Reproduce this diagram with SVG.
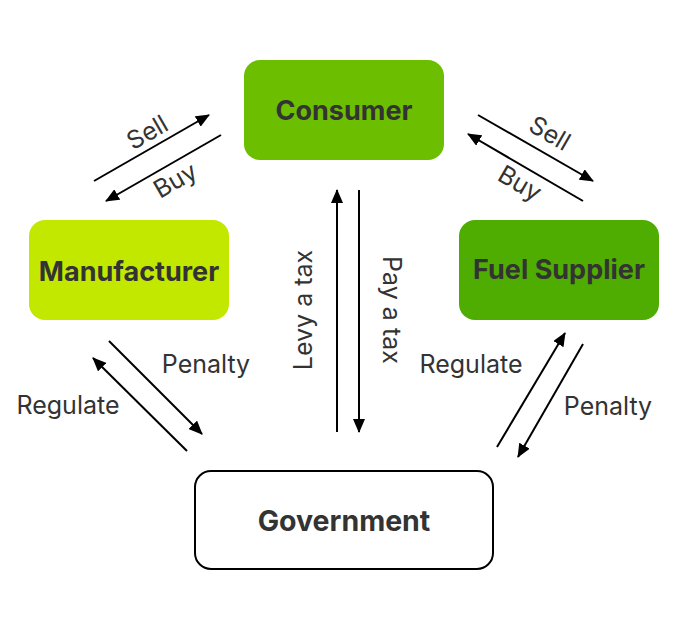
<svg xmlns="http://www.w3.org/2000/svg" width="689" height="631" viewBox="0 0 689 631">
<defs>
<marker id="ah" markerUnits="userSpaceOnUse" markerWidth="14" markerHeight="12" refX="13" refY="6" orient="auto">
<path d="M0,0 L14,6 L0,12 Z" fill="#000"/>
</marker>
<style>
.node-label{font-family:Inter,"Liberation Sans",sans-serif;font-weight:700;font-size:27px;fill:#333;text-anchor:middle;dominant-baseline:central}
.lbl{font-family:Inter,"Liberation Sans",sans-serif;font-size:25px;fill:#333;text-anchor:middle;dominant-baseline:central}
.conn{stroke:#000;stroke-width:2;fill:none;marker-end:url(#ah)}
</style>
</defs>
<rect width="689" height="631" fill="#fff"/>
<g id="consumer">
<rect x="244" y="60" width="200" height="100" rx="16" fill="#6cbf00"/>
<text class="node-label" x="344" y="110">Consumer</text>
</g>
<g id="manufacturer">
<rect x="29" y="220" width="200" height="100" rx="16" fill="#c3e800"/>
<text class="node-label" x="129" y="271">Manufacturer</text>
</g>
<g id="fuel-supplier">
<rect x="459" y="220" width="200" height="100" rx="16" fill="#4ead00"/>
<text class="node-label" x="559" y="269">Fuel Supplier</text>
</g>
<g id="government">
<rect x="195" y="471" width="298" height="98" rx="16" fill="#fff" stroke="#000" stroke-width="2"/>
<text class="node-label" x="344" y="520" style="font-size:28.5px">Government</text>
</g>
<g id="connectors">
<line class="conn" x1="94" y1="181" x2="209" y2="115"/>
<line class="conn" x1="221" y1="135" x2="106" y2="201"/>
<line class="conn" x1="478" y1="115" x2="593" y2="181"/>
<line class="conn" x1="583" y1="201" x2="468" y2="134"/>
<line class="conn" x1="337" y1="432" x2="337" y2="190"/>
<line class="conn" x1="359" y1="190" x2="359" y2="432"/>
<line class="conn" x1="109" y1="341" x2="202" y2="434"/>
<line class="conn" x1="187" y1="451" x2="93" y2="358"/>
<line class="conn" x1="497" y1="447" x2="565" y2="333"/>
<line class="conn" x1="583" y1="344" x2="518" y2="457"/>
<text class="lbl" transform="translate(147,132) rotate(-30)">Sell</text>
<text class="lbl" transform="translate(175,180) rotate(-30)">Buy</text>
<text class="lbl" transform="translate(550,133) rotate(30)">Sell</text>
<text class="lbl" transform="translate(520,183) rotate(30)">Buy</text>
<text class="lbl" transform="translate(303,310) rotate(-90)">Levy a tax</text>
<text class="lbl" transform="translate(392,310) rotate(90)">Pay a tax</text>
<text class="lbl" x="206" y="364">Penalty</text>
<text class="lbl" x="68" y="405">Regulate</text>
<text class="lbl" x="471" y="364">Regulate</text>
<text class="lbl" x="608" y="406">Penalty</text>
</g>
</svg>
